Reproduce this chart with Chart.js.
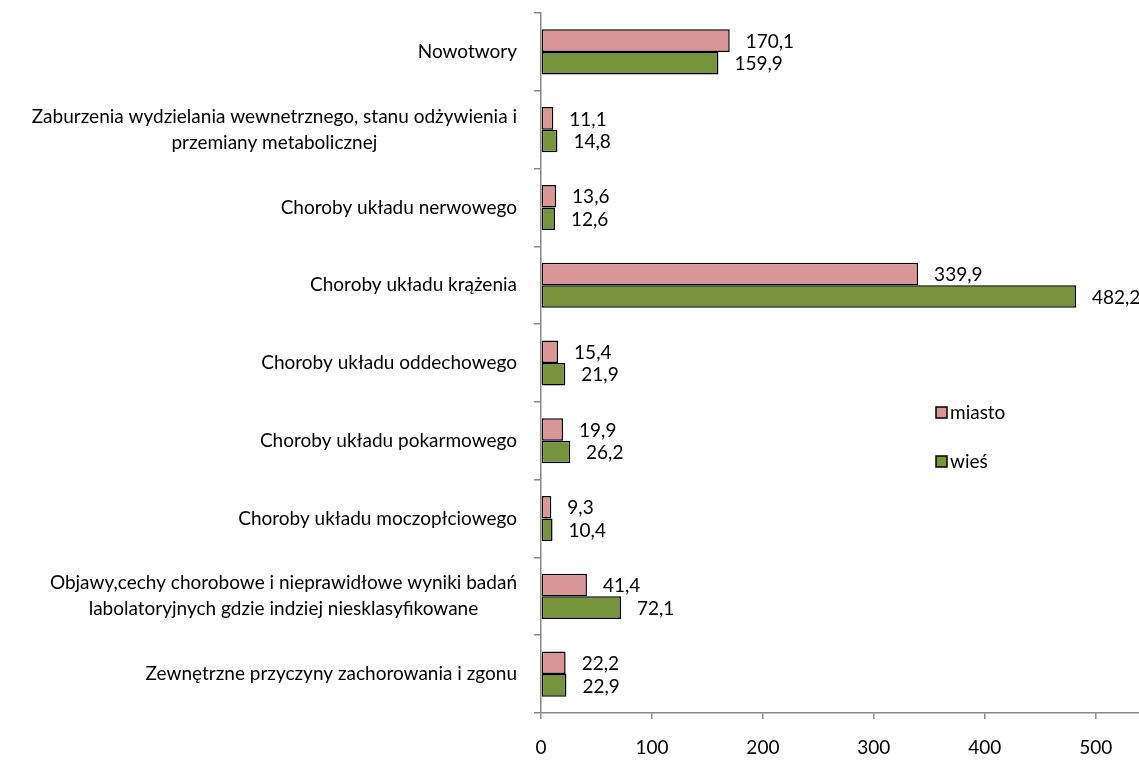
<!DOCTYPE html>
<html>
<head>
<meta charset="utf-8">
<script src="https://cdn.jsdelivr.net/npm/chart.js@4"></script>
<style>
body{margin:0;background:#fff;}
#wrap{width:1139px;height:760px;}
</style>
</head>
<body>
<div id="wrap"><canvas id="chart" width="1139" height="760"></canvas></div>
<script>
// categories (each one is a list of lines)
let categories = [
["Nowotwory"],
["Zaburzenia wydzielania wewnetrznego, stanu odżywienia i","przemiany metabolicznej"],
["Choroby układu nerwowego"],
["Choroby układu krążenia"],
["Choroby układu oddechowego"],
["Choroby układu pokarmowego"],
["Choroby układu moczopłciowego"],
["Objawy,cechy chorobowe i nieprawidłowe wyniki badań","labolatoryjnych gdzie indziej niesklasyfikowane"],
["Zewnętrzne przyczyny zachorowania i zgonu"]
];

let miasto = [170.1, 11.1, 13.6, 339.9, 15.4, 19.9, 9.3, 41.4, 22.2];
let wies = [159.9, 14.8, 12.6, 482.2, 21.9, 26.2, 10.4, 72.1, 22.9];

let seriesNames = ["miasto","wieś"];
let xTicks = [0,100,200,300,400,500];

const FAMILY = "Lato, 'Open Sans', sans-serif";
const FONT = "19px " + FAMILY;
const AXIS = "#888888";

const labelPlugin = {
id:"labels",
afterDraw(chart){

const ctx = chart.ctx;
const y = chart.scales.y;

ctx.save();
ctx.font = FONT;
ctx.fillStyle = "#000";
ctx.textBaseline = "middle";

/* category labels: block right aligned, lines centered */
categories.forEach((lines,i)=>{
const cy = y.getPixelForValue(i);
let w = 0;
lines.forEach(l=>{ w = Math.max(w, ctx.measureText(l).width); });
const right = 517;
const cx = right - w/2;
const lh = 26;
ctx.textAlign = "center";
lines.forEach((l,k)=>{
ctx.fillText(l, cx, cy + (k-(lines.length-1)/2)*lh);
});
});

/* value labels */
ctx.textAlign = "left";
chart.data.datasets.forEach((ds,d)=>{
chart.getDatasetMeta(d).data.forEach((bar,i)=>{
ctx.fillText(ds.data[i].toFixed(1).replace(".",","), bar.x + 16, bar.y + 1);
});
});

/* legend */
const lx = 936;
[413,462].forEach((ly,d)=>{
const ds = chart.data.datasets[d];
ctx.fillStyle = ds.backgroundColor;
ctx.fillRect(lx, ly-6, 11, 11);
ctx.strokeStyle = "#000";
ctx.lineWidth = 1.5;
ctx.strokeRect(lx, ly-6, 11, 11);
ctx.fillStyle = "#000";
ctx.fillText(seriesNames[d], lx+14, ly);
});

ctx.restore();
}
};

new Chart(document.getElementById("chart"),{
type:"bar",
data:{
labels:categories.map(c=>c.join(" ")),
datasets:[
{label:seriesNames[0],data:miasto,backgroundColor:"#D99694",borderColor:"#000",borderWidth:1.5,borderSkipped:false,categoryPercentage:0.58,barPercentage:1},
{label:seriesNames[1],data:wies,backgroundColor:"#77933C",borderColor:"#000",borderWidth:1.5,borderSkipped:false,categoryPercentage:0.58,barPercentage:1}
]
},
options:{
indexAxis:"y",
responsive:false,
animation:false,
devicePixelRatio:1,
layout:{padding:{top:13,right:0,bottom:0,left:0}},
plugins:{legend:{display:false},tooltip:{enabled:false}},
scales:{
x:{
min:0,
max:539,
afterBuildTicks(s){ s.ticks = xTicks.map(v=>({value:v})); },
afterFit(s){ s.height = 47; },
grid:{drawOnChartArea:false,color:AXIS,tickLength:6,lineWidth:1.5},
border:{color:AXIS,width:1.5},
ticks:{color:"#000",font:{family:FAMILY,size:19},padding:17,maxRotation:0}
},
y:{
afterFit(s){ s.width = 541; },
grid:{drawOnChartArea:false,offset:true,color:AXIS,tickLength:7,lineWidth:1.5},
border:{color:AXIS,width:1.5},
ticks:{display:false}
}
}
},
plugins:[labelPlugin]
});
</script>
</body>
</html>
